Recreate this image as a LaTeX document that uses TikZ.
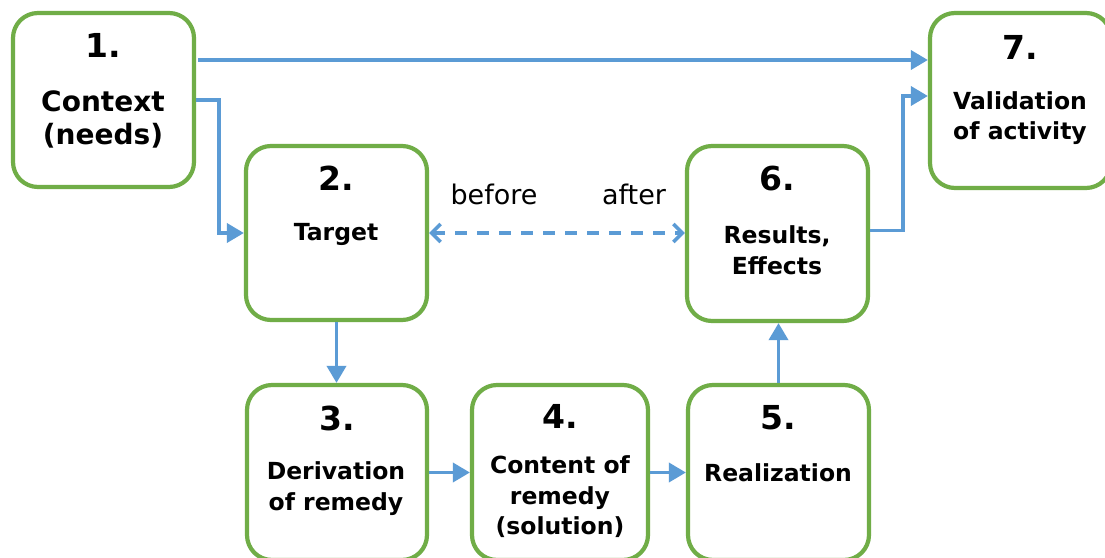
\documentclass[tikz,border=0pt]{standalone}
\usepackage{fontspec}
\setmainfont{DejaVu Sans}
\usetikzlibrary{arrows.meta}
\definecolor{boxgreen}{HTML}{70AD47}
\definecolor{flowblue}{HTML}{5B9BD5}
\begin{document}
\begin{tikzpicture}[x=1pt,y=-1pt,
  stagebox/.style={draw=boxgreen, line width=4.2pt, rounded corners=25pt,
    fill=white, inner sep=0pt, minimum width=181pt, minimum height=174pt},
  numtext/.style={font=\bfseries\fontsize{33}{38}\selectfont, inner sep=0pt},
  labtext/.style={font=\bfseries\fontsize{23.5}{30.5}\selectfont, align=center, inner sep=0pt},
  bigtext/.style={font=\bfseries\fontsize{28}{33}\selectfont, align=center, inner sep=0pt},
  sidetext/.style={font=\fontsize{27}{32}\selectfont, inner sep=0pt},
  flow/.style={draw=flowblue, line width=3.6pt, -{Triangle[length=17pt,width=19pt]}},
  compare/.style={draw=flowblue, line width=3.6pt, dash pattern=on 12pt off 10pt,
    {Straight Barb[length=9pt,width=18pt,line width=3.6pt]}-{Straight Barb[length=9pt,width=18pt,line width=3.6pt]}}
]
\clip (0,0) rectangle (1105,557);
\fill[white] (0,0) rectangle (1105,557);

% stage boxes
\node[stagebox] (n1) at (103.5,100) {};
\node[stagebox] (n2) at (336.5,233) {};
\node[stagebox, minimum height=175pt] (n6) at (777.5,233.5) {};
\node[stagebox, minimum height=175pt] (n7) at (1020.5,100.5) {};
\node[stagebox, minimum width=180pt, minimum height=175pt] (n3) at (337,472.5) {};
\node[stagebox, minimum width=176pt, minimum height=175pt] (n4) at (560,472.5) {};
\node[stagebox, minimum height=175pt] (n5) at (778.5,472.5) {};

% stage numbers
\node[numtext] (k1) at (103,45) {1.};
\node[numtext] (k2) at (336,178) {2.};
\node[numtext] (k3) at (337,418) {3.};
\node[numtext] (k4) at (560,416) {4.};
\node[numtext] (k5) at (778,418) {5.};
\node[numtext] (k6) at (777,179) {6.};
\node[numtext] (k7) at (1020,47) {7.};

% stage names
\node[bigtext] (t1) at (103,119.5) {Context\\(needs)};
\node[labtext] (t2) at (336,234) {Target};
\node[labtext] (t3) at (336,488.5) {Derivation\\of remedy};
\node[labtext] (t4) at (560,497) {Content of\\remedy\\(solution)};
\node[labtext] (t5) at (778,473) {Realization};
\node[labtext] (t6) at (777,250) {Results,\\Effects};
\node[labtext] (t7) at (1020,118) {Validation\\of activity};

\node[sidetext] (before) at (494,194) {before};
\node[sidetext] (after) at (634,194) {after};

% connectors
\draw[flow] ([xshift=2pt,yshift=40pt]n1.east) -- ([yshift=40pt]n1.east -| n7.west);
\draw[flow] (n1.east) -- ++(23,0) |- (n2.west);
\draw[flow] (n2.south) -- (n2.south |- n3.north);
\draw[flow] (n3.east) -- (n4.west);
\draw[flow] (n4.east) -- (n5.west);
\draw[flow] (n5.north) -- (n5.north |- n6.south);
\draw[flow] ([yshift=3pt]n6.east) -- ++(33,0) |- ([yshift=4.5pt]n7.west);
\draw[compare] (n2.east) -- (n2.east -| n6.west);
\end{tikzpicture}
\end{document}
